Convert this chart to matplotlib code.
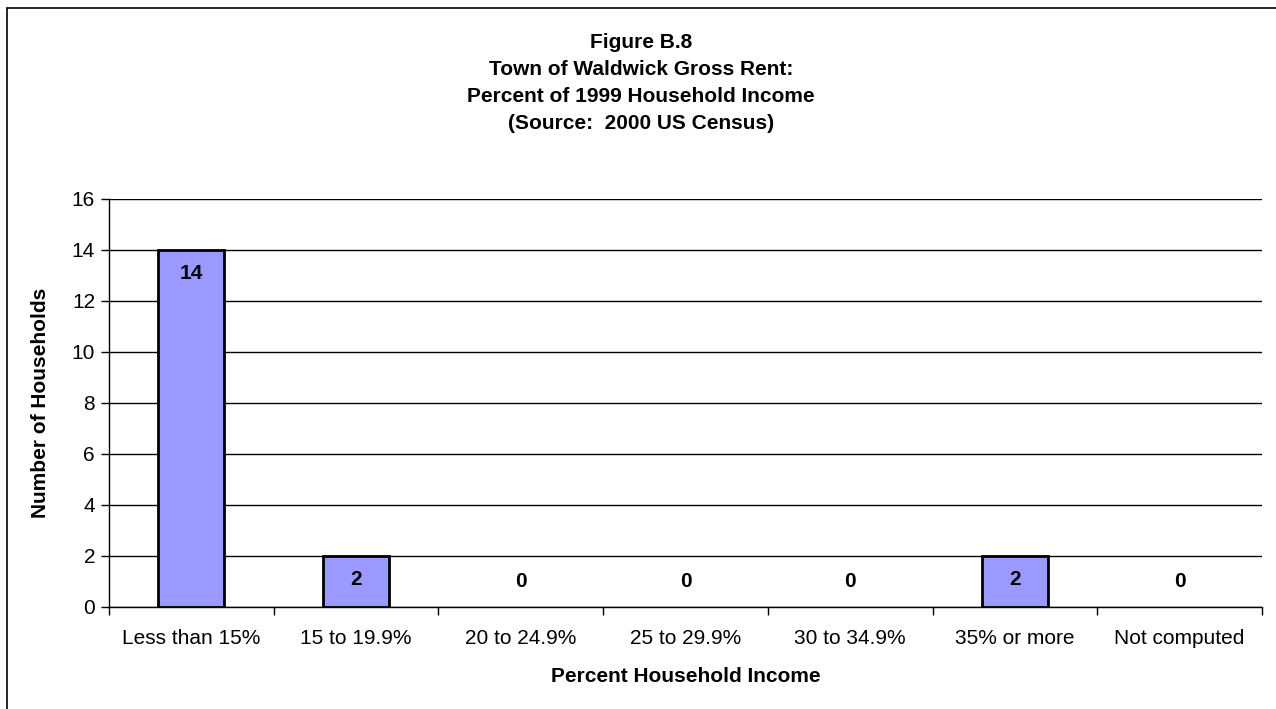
import matplotlib
matplotlib.use("Agg")
import matplotlib.pyplot as plt
from matplotlib.patches import Rectangle

plt.rcParams['font.family'] = ['Liberation Sans', 'DejaVu Sans']

# data
categories = ['Less than 15%', '15 to 19.9%', '20 to 24.9%', '25 to 29.9%',
              '30 to 34.9%', '35% or more', 'Not computed']
households = [14, 2, 0, 0, 0, 2, 0]
title_lines = ['Figure B.8', 'Town of Waldwick Gross Rent:',
               'Percent of 1999 Household Income', '(Source:  2000 US Census)']
yticks = list(range(0, 17, 2))

W, H = 1276, 709
fig = plt.figure(figsize=(W / 100, H / 100), dpi=100)
ax = fig.add_axes([109 / W, (H - 606.7) / H, (1262 - 109) / W, (606.7 - 199) / H])

x = list(range(len(categories)))
# no outline on empty bars
edge_w = [2 if v > 0 else 0 for v in households]
ax.bar(x, households, width=0.40, color='#9999FF', edgecolor='black',
       linewidth=edge_w, zorder=3)

# value labels, excel style "inside end"
for xi, v in zip(x, households):
    if v > 0:
        ax.annotate(str(v), (xi, v), xytext=(0, -17), textcoords='offset points',
                    ha='center', va='center', fontsize=15, fontweight='bold', zorder=4)
    else:
        ax.annotate(str(v), (xi, v), xytext=(0, 18), textcoords='offset points',
                    ha='center', va='center', fontsize=15, fontweight='bold', zorder=4)

ax.set_xlim(-0.5, len(categories) - 0.5)
ax.set_ylim(0, 16)
ax.set_yticks(yticks)
ax.yaxis.grid(True, color='black', linewidth=1, zorder=0)
ax.set_axisbelow(True)

# x ticks between categories, labels centred under bars
ax.set_xticks([i - 0.5 for i in range(len(categories) + 1)])
ax.set_xticklabels([])
ax.set_xticks(x, minor=True)
ax.set_xticklabels(categories, minor=True, fontsize=15)
ax.tick_params(axis='x', which='minor', length=0, pad=16)
ax.tick_params(axis='x', which='major', length=6, width=1, direction='out')
ax.tick_params(axis='y', length=6, width=1, direction='out', labelsize=15, pad=4)

for s in ['top', 'right']:
    ax.spines[s].set_visible(False)
for s in ['left', 'bottom']:
    ax.spines[s].set_color('black')
    ax.spines[s].set_linewidth(1)

ax.set_xlabel('Percent Household Income', fontsize=15, fontweight='bold', labelpad=14)
ax.set_ylabel('Number of Households', fontsize=15, fontweight='bold', labelpad=16)

# title lines
for i, line in enumerate(title_lines):
    fig.text(641 / W, 1 - (42 + i * 27.3) / H, line, ha='center', va='center',
             fontsize=15, fontweight='bold')

# chart border
fig.patches.append(Rectangle((6.5 / W, -0.1), 1.2, 1.1 - 8 / H, transform=fig.transFigure,
                             fill=False, edgecolor='black', linewidth=1.2))

fig.savefig('out.png', dpi=100)
